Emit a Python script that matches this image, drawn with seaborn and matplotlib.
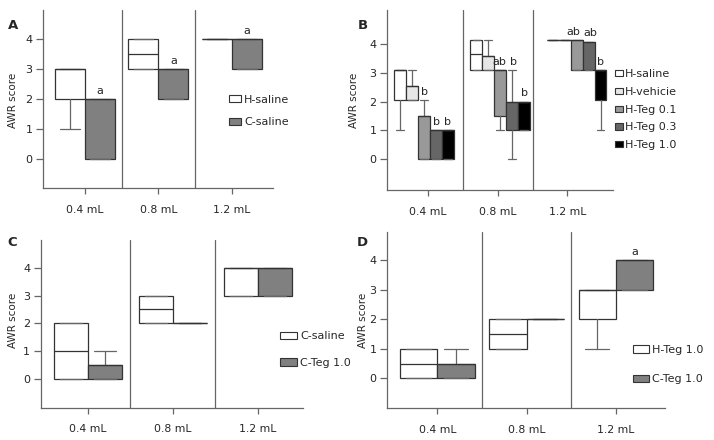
import seaborn as sns
import matplotlib.pyplot as plt
from matplotlib.patches import Patch

doses = ["0.4 mL", "0.8 mL", "1.2 mL"]

# every box: (q1, median, q3, whisker low, whisker high)
# one tuple per dose (0.4, 0.8, 1.2 mL)
a_h_saline = [(2, 3, 3, 1, 3), (3, 3.5, 4, 3, 4), (4, 4, 4, 4, 4)]
a_c_saline = [(0, 2, 2, 0, 2), (2, 3, 3, 2, 3), (3, 4, 4, 3, 4)]
a_letters = [["", "", ""], ["a", "a", "a"]]

b_h_saline = [(2.05, 3.1, 3.1, 1, 3.1), (3.1, 3.65, 4.15, 3.1, 4.15), (4.15, 4.15, 4.15, 4.15, 4.15)]
b_h_vehicle = [(2.05, 2.55, 2.55, 2.05, 3.1), (3.1, 3.6, 3.6, 3.1, 4.15), (4.15, 4.15, 4.15, 4.15, 4.15)]
b_h_teg01 = [(0, 1.5, 1.5, 0, 2.05), (1.5, 3.1, 3.1, 1, 3.1), (3.1, 4.15, 4.15, 3.1, 4.15)]
b_h_teg03 = [(0, 1, 1, 0, 1), (1, 2, 2, 0, 3.1), (3.1, 4.1, 4.1, 3.1, 4.1)]
b_h_teg10 = [(0, 1, 1, 0, 1), (1, 2, 2, 1, 2), (2.05, 3.1, 3.1, 1, 3.1)]
b_letters = [["", "", ""], ["", "", ""], ["b", "ab", "ab"], ["b", "b", "ab"], ["b", "b", "b"]]

c_c_saline = [(0, 1, 2, 0, 2), (2, 2.5, 3, 2, 3), (3, 4, 4, 3, 4)]
c_c_teg10 = [(0, 0.5, 0.5, 0, 1), (2, 2, 2, 2, 2), (3, 4, 4, 3, 4)]
c_letters = [["", "", ""], ["", "", ""]]

d_h_teg10 = [(0, 0.5, 1, 0, 1), (1, 1.5, 2, 1, 2), (2, 3, 3, 1, 3)]
d_c_teg10 = [(0, 0.5, 0.5, 0, 1), (2, 2, 2, 2, 2), (3, 4, 4, 3, 4)]
d_letters = [["", "", ""], ["", "", "a"]]

sns.set_style("ticks")
plt.rcParams["font.family"] = ["DejaVu Sans"]
plt.rcParams["font.size"] = 8

EDGE = "#333333"
AXC = "#666666"


def panel(fig, rect, tag, names, series, colors, letters, width, xlim, ylim,
          leg_xy, leg_opts, tag_xy, ylab_xy, shift=(0, 0, 0), letter_dx=None):
    letter_dx = letter_dx or {}
    ax = fig.add_axes(rect)
    n = len(series)
    for i, (name, stats, col, lets) in enumerate(zip(names, series, colors, letters)):
        pos = [g + shift[g] + (i - (n - 1) / 2) * width for g in range(len(doses))]
        bx = [dict(q1=s[0], med=s[1], q3=s[2], whislo=s[3], whishi=s[4]) for s in stats]
        ax.bxp(bx, positions=pos, widths=width, patch_artist=True, showfliers=False,
               capwidths=width * 0.65, manage_ticks=False,
               boxprops=dict(facecolor=col, edgecolor=EDGE, linewidth=0.9),
               medianprops=dict(color=EDGE, linewidth=0.9),
               whiskerprops=dict(color=AXC, linewidth=0.9),
               capprops=dict(color=AXC, linewidth=0.9))
        for g, (p, s, t) in enumerate(zip(pos, stats, lets)):
            if t:
                dx = letter_dx.get((i, g), 0)
                ax.annotate(t, (p, s[4]), xytext=(dx, 2.5), textcoords="offset points",
                            ha="center", va="bottom", fontsize=8)
    for sep in [0.5, 1.5]:
        ax.axvline(sep, color=AXC, lw=0.9)
    ax.set_xlim(*xlim)
    ax.set_ylim(*ylim)
    ax.set_xticks(range(len(doses)))
    ax.set_xticklabels(doses)
    ax.set_yticks([0, 1, 2, 3, 4])
    ax.tick_params(axis="x", length=4, width=0.9, color=AXC, pad=8, labelsize=7.8)
    ax.tick_params(axis="y", length=5, width=0.9, color=AXC, pad=2.5, labelsize=8)
    sns.despine(ax=ax)
    for sp in ["left", "bottom"]:
        ax.spines[sp].set_color(AXC)
        ax.spines[sp].set_linewidth(0.9)
    handles = [Patch(facecolor=c, edgecolor=EDGE, linewidth=0.8) for c in colors]
    ax.legend(handles, names, loc="upper left", bbox_to_anchor=leg_xy,
              bbox_transform=fig.transFigure, frameon=False, borderpad=0,
              borderaxespad=0, fontsize=8, **leg_opts)
    fig.text(tag_xy[0], tag_xy[1], tag, fontsize=9.5, fontweight="bold",
             ha="left", va="center")
    fig.text(ylab_xy[0], ylab_xy[1], "AWR score", rotation=90, fontsize=7.5,
             ha="center", va="center")
    return ax


fig = plt.figure(figsize=(7.14, 4.40), dpi=100)

panel(fig, [0.0602, 0.5727, 0.3222, 0.4046], "A",
      ["H-saline", "C-saline"], [a_h_saline, a_c_saline], ["#ffffff", "#808080"],
      a_letters, 0.408, (-0.57, 2.56), (-0.97, 4.98),
      (0.321, 0.785), dict(handlelength=1.1, handleheight=0.65, labelspacing=1.15,
                            handletextpad=0.25),
      (0.011, 0.943), (0.018, 0.772))

panel(fig, [0.542, 0.5682, 0.3165, 0.4091], "B",
      ["H-saline", "H-vehicie", "H-Teg 0.1", "H-Teg 0.3", "H-Teg 1.0"],
      [b_h_saline, b_h_vehicle, b_h_teg01, b_h_teg03, b_h_teg10],
      ["#ffffff", "#e6e6e6", "#999999", "#666666", "#000000"],
      b_letters, 0.171, (-0.58, 2.65), (-1.08, 5.2),
      (0.861, 0.843), dict(handlelength=0.75, handleheight=0.5, labelspacing=0.7,
                            handletextpad=0.2),
      (0.501, 0.943), (0.496, 0.772), shift=(-0.05, 0.04, 0.13),
      letter_dx={(2, 2): -2.5, (3, 2): 1.5, (2, 1): -0.5, (3, 1): 1.0})

panel(fig, [0.057, 0.0734, 0.3674, 0.3811], "C",
      ["C-saline", "C-Teg 1.0"], [c_c_saline, c_c_teg10], ["#ffffff", "#808080"],
      c_letters, 0.4, (-0.556, 2.53), (-1.02, 4.99),
      (0.392, 0.247), dict(handlelength=1.55, handleheight=0.7, labelspacing=1.5,
                            handletextpad=0.25),
      (0.011, 0.45), (0.018, 0.272))

panel(fig, [0.542, 0.0727, 0.3894, 0.40], "D",
      ["H-Teg 1.0", "C-Teg 1.0"], [d_h_teg10, d_c_teg10], ["#ffffff", "#808080"],
      d_letters, 0.418, (-0.563, 2.55), (-1.0, 4.95),
      (0.887, 0.216), dict(handlelength=1.4, handleheight=0.65, labelspacing=1.75,
                            handletextpad=0.25),
      (0.499, 0.45), (0.508, 0.272))

fig.savefig("out.png", dpi=100)
